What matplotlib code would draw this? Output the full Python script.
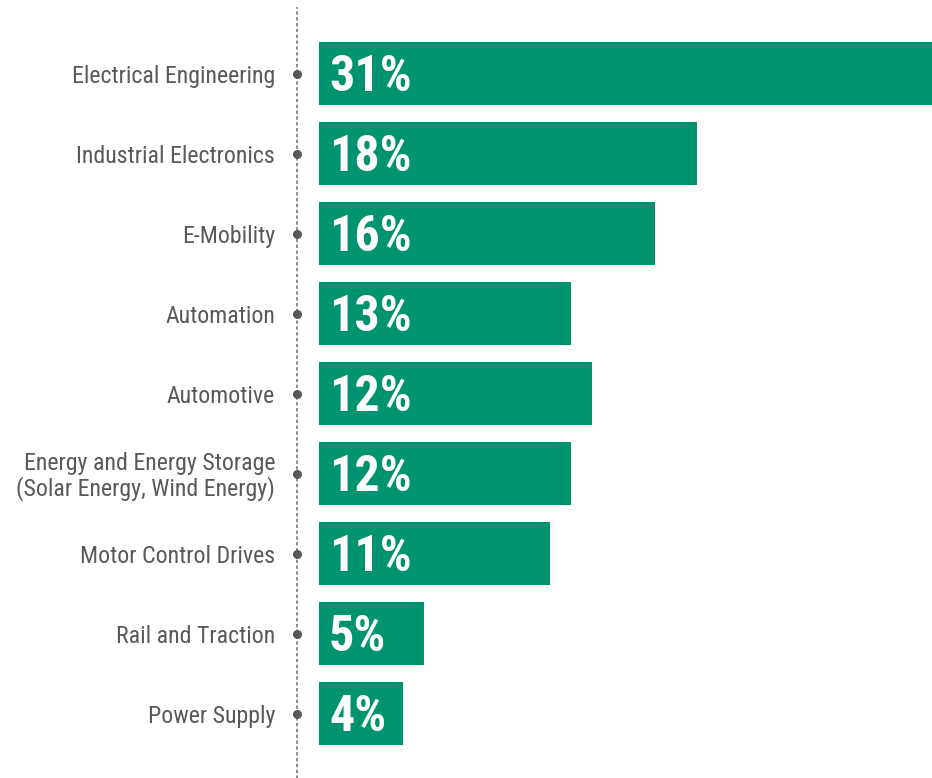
import matplotlib.pyplot as plt

# Data
categories = ['Electrical Engineering', 'Industrial Electronics', 'E-Mobility',
              'Automation', 'Automotive',
              'Energy and Energy Storage\n(Solar Energy, Wind Energy)',
              'Motor Control Drives', 'Rail and Traction', 'Power Supply']
bar_values = [31, 18, 16, 12, 13, 12, 11, 5, 4]
pct_labels = ['31%', '18%', '16%', '13%', '12%', '12%', '11%', '5%', '4%']

fonts = ['Roboto Condensed', 'DejaVu Sans']
green = '#00936F'
grey = '#58595B'

fig = plt.figure(figsize=(9.32, 7.78), dpi=100)
ax = fig.add_axes([297 / 932, 0, 635 / 932, 770 / 778])

px = 21.0  # pixels per percent
x_left = -22 / px
ax.set_xlim(x_left, 613 / px)
ax.set_ylim((778 - 74) / 80, (8 - 74) / 80)

ypos = list(range(len(categories)))
ax.barh(ypos, bar_values, height=63 / 80, color=green)

for y, lab, pct in zip(ypos, categories, pct_labels):
    ax.text(x_left - 22 / px, y + 0.035, lab, ha='right', va='center', fontsize=17.2,
            color=grey, family=fonts, clip_on=False, linespacing=1.05)
    ax.text(10 / px, y + 0.045, pct, ha='left', va='center', fontsize=36,
            color='white', fontweight='bold', family=fonts)

ax.plot([x_left] * len(ypos), ypos, 'o', color=grey, markersize=5.5,
        clip_on=False, zorder=5)

for s in ['top', 'right', 'bottom']:
    ax.spines[s].set_visible(False)
ax.spines['left'].set_linestyle((0, (1, 2.5)))
ax.spines['left'].set_color('#777777')
ax.spines['left'].set_linewidth(1.2)
ax.set_xticks([])
ax.set_yticks([])

fig.savefig('out.png', dpi=100)
